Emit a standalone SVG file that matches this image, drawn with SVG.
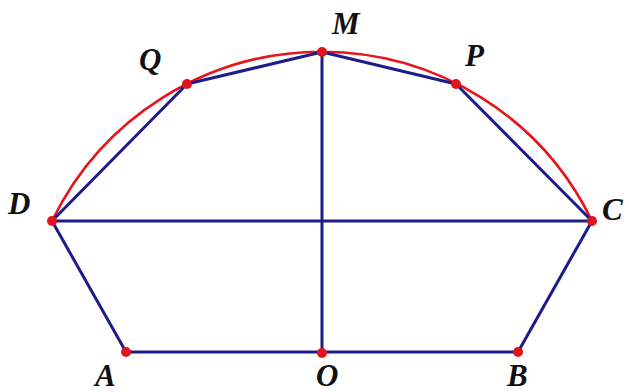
<svg xmlns="http://www.w3.org/2000/svg" width="629" height="392" viewBox="0 0 629 392">
<style>
.seg{stroke:#1c1c8a;stroke-width:3;fill:none;stroke-linecap:round}
.arc{stroke:#e8141c;stroke-width:2.6;fill:none}
.pt{fill:#e0141c}
.lbl{font-family:"Liberation Serif",serif;font-style:italic;font-weight:bold;font-size:31px;fill:#111}
</style>
<rect width="629" height="392" fill="#fff"/>
<g id="arc-group"><path class="arc" d="M52,221 A300,300 0 0 1 592,221"/></g>
<g id="connectors">
<line class="seg" x1="52" y1="221" x2="187" y2="84"/>
<line class="seg" x1="187" y1="84" x2="322" y2="52"/>
<line class="seg" x1="322" y1="52" x2="456" y2="84"/>
<line class="seg" x1="456" y1="84" x2="592" y2="221"/>
<line class="seg" x1="52" y1="221" x2="592" y2="221"/>
<line class="seg" x1="322" y1="52" x2="322" y2="353"/>
<line class="seg" x1="52" y1="221" x2="126" y2="352"/>
<line class="seg" x1="126" y1="352" x2="518" y2="352"/>
<line class="seg" x1="592" y1="221" x2="518" y2="352"/>
</g>
<g id="M"><circle class="pt" cx="322" cy="52" r="5"/><text class="lbl" x="332" y="34">M</text></g>
<g id="Q"><circle class="pt" cx="187" cy="84" r="5"/><text class="lbl" x="139" y="70">Q</text></g>
<g id="P"><circle class="pt" cx="456" cy="84" r="5"/><text class="lbl" x="465" y="66">P</text></g>
<g id="D"><circle class="pt" cx="52" cy="221" r="5"/><text class="lbl" x="8" y="214">D</text></g>
<g id="C"><circle class="pt" cx="592" cy="221" r="5"/><text class="lbl" x="602" y="220">C</text></g>
<g id="A"><circle class="pt" cx="126" cy="352" r="5"/><text class="lbl" x="95" y="386">A</text></g>
<g id="O"><circle class="pt" cx="322" cy="353" r="5"/><text class="lbl" x="316" y="386">O</text></g>
<g id="B"><circle class="pt" cx="518" cy="352" r="5"/><text class="lbl" x="507" y="386">B</text></g>
</svg>
